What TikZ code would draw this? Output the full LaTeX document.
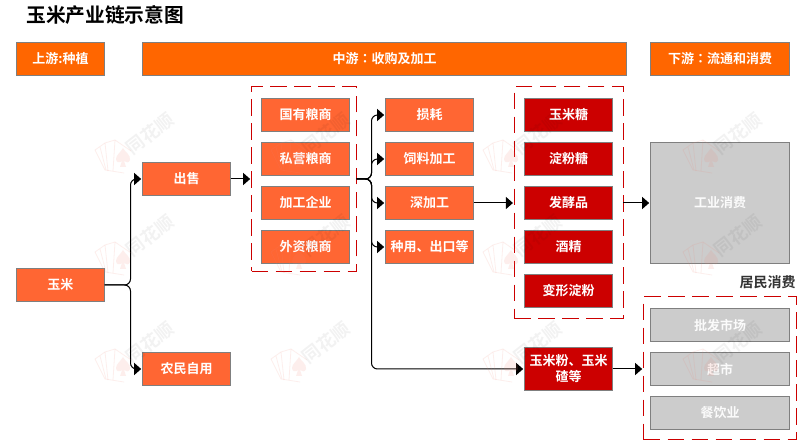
\documentclass[tikz,border=0pt]{standalone}
\usepackage{fontspec}
\setmainfont{Noto Sans CJK SC}[BoldFont={Noto Sans CJK SC Bold}]
\newfontfamily\tcfont{Noto Sans CJK TC}[BoldFont={Noto Sans CJK TC Bold}]
\usetikzlibrary{arrows.meta}
\definecolor{hdr}{HTML}{FF6600}
\definecolor{org}{HTML}{FF6633}
\definecolor{rd}{HTML}{CC0000}
\definecolor{gy}{HTML}{CCCCCC}
\definecolor{bd}{HTML}{7F7F7F}
\definecolor{wmp}{HTML}{F08070}
\tikzset{
  x=0.75pt,y=-0.75pt,
  lab/.style={font=\bfseries\fontsize{9.75pt}{12pt}\selectfont,text=white,align=center,inner sep=0pt,outer sep=0pt,draw=bd,line width=0.75pt},
  hbox/.style={lab,fill=hdr,minimum height=24.75pt},
  obox/.style={lab,fill=org,minimum width=66pt,minimum height=24.75pt},
  rbox/.style={lab,fill=rd,minimum width=66pt,minimum height=24.75pt},
  gbox/.style={lab,fill=gy,minimum width=104.25pt,minimum height=24.75pt,text=white!92!gy},
  dbox/.style={draw=rd,line width=0.75pt,dash pattern=on 12.5pt off 5.5pt,inner sep=0pt,outer sep=0pt},
  conn/.style={draw=black,line width=0.75pt,rounded corners=4.5pt},
  arr/.style={conn,-{Triangle[length=5.25pt,width=9pt]},shorten >=1pt},
}
\newcommand{\wmark}[2]{%
  \begin{scope}[shift={(#1,#2)}]
    \begin{scope}[opacity=.13,wmp,line width=0.6pt]
    \draw (-17,-6) -- (-7,-13) -- (3,-16) -- (19,-5);
    \draw (-17,-6) -- (-7,14) -- (12,17);
    \draw (-7,-13) -- (-4,15);
    \draw (3,-16) -- (1,15);
    \draw (-12,-9) -- (-6,14);
    \end{scope}
    \fill[wmp,opacity=.13] (11,-8) .. controls (13,-4) and (19,-1) .. (18,4) .. controls (17,7) and (14,7) .. (12,5) -- (14,11) -- (8,11) -- (10,5) .. controls (8,7) and (4,7) .. (4,3) .. controls (4,-1) and (9,-4) .. (11,-8) -- cycle;
    \node[rotate=38,font=\bfseries\fontsize{13.5pt}{14pt}\selectfont,text=black,opacity=.05,inner sep=0pt] at (38,-22) {同花顺};
  \end{scope}}
\begin{document}
\begin{tikzpicture}
\useasboundingbox[fill=white] (0,0) rectangle (797,441);
\node[font=\bfseries\fontsize{14.8pt}{16pt}\selectfont,text=black,inner sep=0pt,anchor=west] (title) at (26,15) {玉米产业链示意图};
\node[hbox,minimum width=66pt] (up) at (60.5,59) {上游:种植};
\node[hbox,minimum width=363pt] (mid) at (384.5,59) {中游{\tcfont ：}收购及加工};
\node[hbox,minimum width=104.25pt] (down) at (720,59) {下游{\tcfont ：}流通和消费};
\node[obox] (corn) at (60.5,285) {玉米};
\node[obox] (sell) at (186.5,179) {出售};
\node[obox] (self) at (186.5,369) {农民自用};
\node[dbox,minimum width=78.75pt,minimum height=138.75pt] (d1) at (304,179) {};
\node[obox] (a1) at (305.5,115) {国有粮商};
\node[obox] (a2) at (305.5,159) {私营粮商};
\node[obox] (a3) at (305.5,203) {加工企业};
\node[obox] (a4) at (305.5,247) {外资粮商};
\node[obox] (b1) at (429.5,115) {损耗};
\node[obox] (b2) at (429.5,159) {饲料加工};
\node[obox] (b3) at (429.5,203) {深加工};
\node[obox] (b4) at (429.5,247) {种用、出口等};
\node[dbox,minimum width=81.75pt,minimum height=174pt] (d2) at (568.75,202.75) {};
\node[rbox] (c1) at (568.5,115) {玉米糖};
\node[rbox] (c2) at (568.5,159) {淀粉糖};
\node[rbox] (c3) at (568.5,203) {发酵品};
\node[rbox] (c4) at (568.5,247) {酒精};
\node[rbox] (c5) at (568.5,291) {变形淀粉};
\node[rbox,minimum height=32.25pt] (c6) at (568.5,369) {玉米粉、玉米\\碴等};
\node[gbox,minimum height=90.75pt] (ind) at (720,203) {工业消费};
\node[font=\bfseries\fontsize{10.5pt}{12pt}\selectfont,text=black!80,inner sep=0pt,anchor=east] (res) at (796,282) {居民消费};
\node[dbox,minimum width=114.75pt,minimum height=107.25pt] (d3) at (720,368.25) {};
\node[gbox] (g1) at (720,325) {批发市场};
\node[gbox] (g2) at (720,369) {超市};
\node[gbox] (g3) at (720,413) {餐饮业};
\coordinate (bus1) at (130.5,285);
\coordinate (bus2) at (371.5,179);
\draw[arr] (corn.east) -- (bus1) |- (sell.west);
\draw[arr] (corn.east) -- (bus1) |- (self.west);
\draw[arr] (sell.east) -- (d1.west);
\draw[arr] (d1.east) -- (bus2) |- (b1.west);
\draw[arr] (d1.east) -- (bus2) |- (b2.west);
\draw[arr] (d1.east) -- (bus2) |- (b3.west);
\draw[arr] (d1.east) -- (bus2) |- (b4.west);
\draw[arr] (d1.east) -- (bus2) |- (c6.west);
\draw[arr] (b3.east) -- (d2.west |- b3.east);
\draw[arr] (d2.east |- ind.west) -- (ind.west);
\draw[arr] (c6.east) -- (d3.west |- c6.east);
\foreach \x in {112,288,500,700}{\foreach \y in {156,258,365}{\wmark{\x}{\y}}}
\end{tikzpicture}
\end{document}
